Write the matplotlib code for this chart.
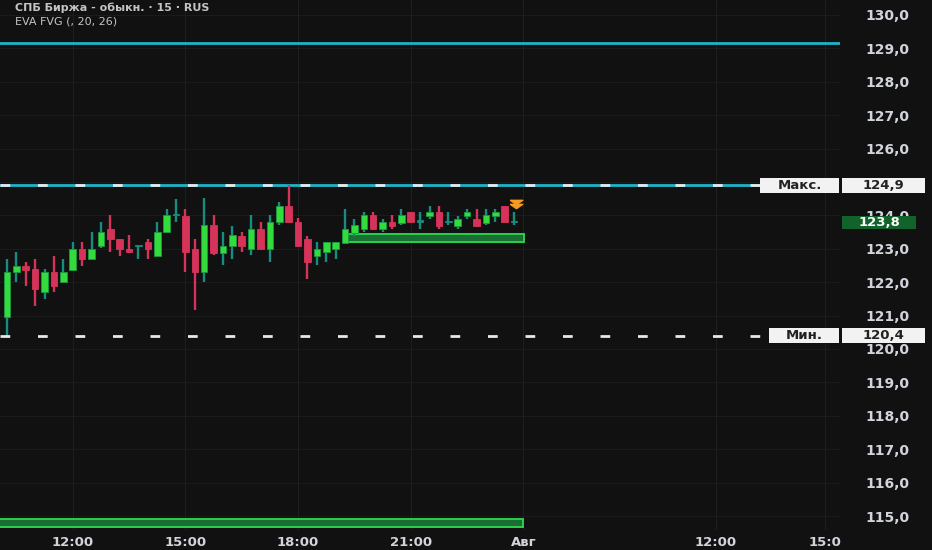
import numpy as np
import matplotlib
matplotlib.use("Agg")
import matplotlib.pyplot as plt
from matplotlib.patches import Rectangle
from matplotlib.path import Path

plt.rcParams['font.family'] = ['DejaVu Sans']
plt.rcParams['lines.scale_dashes'] = False

# 15-minute candles
opens = [120.97, 122.30, 122.49, 122.40, 121.70, 122.30, 122.00, 122.37, 123.00, 122.69,
         123.09, 123.59, 123.29, 123.00, 123.08, 123.19, 122.79, 123.49, 124.00, 123.99,
         123.00, 122.30, 123.71, 122.87, 123.09, 123.39, 123.00, 123.59, 123.00, 123.79,
         124.29, 123.79, 123.29, 122.79, 122.90, 123.00, 123.16, 123.46, 123.59, 124.01,
         123.59, 123.81, 123.76, 124.09, 123.81, 123.99, 124.11, 123.80, 123.69, 123.99,
         123.89, 123.76, 123.99, 124.29, 123.79]
highs = [122.69, 122.90, 122.60, 122.69, 122.40, 122.79, 122.69, 123.19, 123.19, 123.49,
         123.79, 124.01, 123.29, 123.41, 123.09, 123.29, 123.79, 124.19, 124.49, 124.19,
         123.29, 124.51, 124.01, 123.49, 123.69, 123.49, 124.01, 123.79, 124.01, 124.39,
         124.90, 123.91, 123.39, 123.19, 123.19, 123.19, 124.19, 123.89, 124.09, 124.09,
         123.89, 124.01, 124.19, 124.09, 124.09, 124.29, 124.29, 124.09, 123.99, 124.19,
         124.19, 124.19, 124.19, 124.29, 124.09]
lows = [120.40, 122.01, 121.90, 121.30, 121.50, 121.72, 122.00, 122.34, 122.49, 122.69,
        123.01, 122.90, 122.79, 122.87, 122.69, 122.69, 122.79, 123.49, 123.81, 122.30,
        121.17, 122.01, 122.81, 122.51, 122.69, 122.90, 122.81, 122.98, 122.61, 123.71,
        123.79, 123.09, 122.10, 122.51, 122.60, 122.69, 123.16, 123.39, 123.49, 123.58,
        123.49, 123.59, 123.71, 123.79, 123.59, 123.89, 123.59, 123.71, 123.59, 123.89,
        123.69, 123.71, 123.79, 123.79, 123.71]
closes = [122.31, 122.49, 122.37, 121.80, 122.30, 121.90, 122.30, 123.00, 122.69, 123.00,
          123.49, 123.29, 123.00, 122.90, 123.09, 123.00, 123.49, 124.01, 124.01, 122.90,
          122.30, 123.71, 122.87, 123.09, 123.41, 123.09, 123.59, 123.00, 123.79, 124.29,
          123.79, 123.09, 122.60, 123.00, 123.19, 123.19, 123.59, 123.71, 124.01, 123.59,
          123.79, 123.69, 124.01, 123.79, 123.82, 124.09, 123.69, 123.81, 123.89, 124.11,
          123.69, 124.01, 124.11, 123.79, 123.80]

price_ticks = list(range(115, 131))
time_pos = [7, 19, 31, 43, 55, 75.5, 87.1]
time_labels = ['12:00', '15:00', '18:00', '21:00', 'Авг', '12:00', '15:0']

day_high = 124.9
day_low = 120.4
last_price = 123.8
upper_level = 129.15
fvg_boxes = [(36, 55.05, 123.19, 123.44), (-2, 55.0, 114.67, 114.91)]
signal_idx = 54.2
signal_levels = [124.39, 124.27]

bg = '#111111'
cyan = '#1fb3c8'
green = '#33dc3c'
red = '#d6335a'
teal = '#178c80'
txt = '#d1d4dc'

fig = plt.figure(figsize=(9.32, 5.5), dpi=100, facecolor=bg)
ax = fig.add_axes([0, 20 / 550, 840 / 932, 530 / 550])
ax.set_facecolor(bg)
ax.set_xlim(-0.745, 88.71)
ax.set_ylim(130 - 515 / 33.4, 130 + 15 / 33.4)
for s in ax.spines.values():
    s.set_visible(False)

# faint grid
for p in price_ticks:
    ax.axhline(p, color='#1b1b1b', lw=0.8, zorder=0)
for t in time_pos:
    ax.axvline(t, color='#1f1f1f', lw=0.8, zorder=0)

# candles
x = np.arange(len(opens))
o = np.array(opens); c = np.array(closes)
h = np.array(highs); l = np.array(lows)
up = c - o > 0.015
down = o - c > 0.015
body_col = np.where(up, green, np.where(down, red, teal))
wick_col = np.where(down, red, teal)
ax.vlines(x, l, h, colors=wick_col, lw=1.7, zorder=3)
bottom = np.minimum(o, c)
height = np.maximum(np.abs(c - o), 0.04)
ax.bar(x, height, bottom=bottom, width=0.7, color=body_col,
       edgecolor=np.where(up, '#1c9a40', body_col), linewidth=0.6, zorder=4)

# levels
ax.axhline(upper_level, color=cyan, lw=2, zorder=2)
ax.hlines(day_high, -1, 80.2, color=cyan, lw=2, zorder=2)
ax.hlines([day_high, day_low], -0.745, 80.2, color='#e8e8e8', lw=2,
          linestyles=[(0, (7, 20))], zorder=3)

# FVG boxes
for x0, x1, y0, y1 in fvg_boxes:
    ax.add_patch(Rectangle((x0, y0), x1 - x0, y1 - y0, facecolor='#1b6e33',
                           edgecolor='#2bd04c', lw=1.4, zorder=2))

# signal chevrons
chev = Path([(-1, 0.35), (1, 0.35), (0, -0.35), (-1, 0.35)])
ax.plot([signal_idx] * 2, signal_levels, ls='none', marker=chev, ms=9,
        color='#f59a23', zorder=5)

# axes ticks (125,0 sits under the max tag)
ax.yaxis.tick_right()
ax.set_yticks(price_ticks)
ax.set_yticklabels(['' if p == 125 else f'{p},0' for p in price_ticks])
ax.tick_params(axis='y', length=0, pad=34, colors=txt, labelsize=10)
for lab in ax.get_yticklabels():
    lab.set_horizontalalignment('center')
    lab.set_fontweight('bold')
ax.set_xticks(time_pos)
ax.set_xticklabels(time_labels)
ax.tick_params(axis='x', length=0, pad=4, colors=txt, labelsize=9.5)
for lab in ax.get_xticklabels():
    lab.set_fontweight('bold')

# price scale labels
tr = ax.get_yaxis_transform()
def tag(x0, x1, y, text, face, color, hpx=15):
    hh = hpx / 33.4
    ax.add_patch(Rectangle((x0 / 840, y - hh / 2), (x1 - x0) / 840, hh, transform=tr,
                           facecolor=face, edgecolor='none', clip_on=False, zorder=6))
    ax.text((x0 + x1) / 2 / 840, y, text, transform=tr, ha='center', va='center',
            color=color, fontsize=9.5, fontweight='bold', clip_on=False, zorder=7)

tag(760, 839, day_high, 'Макс.', '#f2f2f2', '#222222')
tag(842, 925, day_high, f'{day_high:.1f}'.replace('.', ','), '#f2f2f2', '#222222')
tag(769, 839, day_low, 'Мин.', '#f2f2f2', '#222222')
tag(842, 925, day_low, f'{day_low:.1f}'.replace('.', ','), '#f2f2f2', '#222222')
tag(842, 916, last_price, f'{last_price:.1f}'.replace('.', ','), '#12632b', '#ffffff', 13)

fig.text(15 / 932, 1 - 8 / 550, 'СПБ Биржа - обыкн. · 15 · RUS', color='#c4c4c4',
         fontsize=8, fontweight='bold', va='center')
fig.text(15 / 932, 1 - 21 / 550, 'EVA FVG (, 20, 26)', color='#c4c4c4',
         fontsize=8, va='center')

fig.savefig('out.png', dpi=100, facecolor=bg)
